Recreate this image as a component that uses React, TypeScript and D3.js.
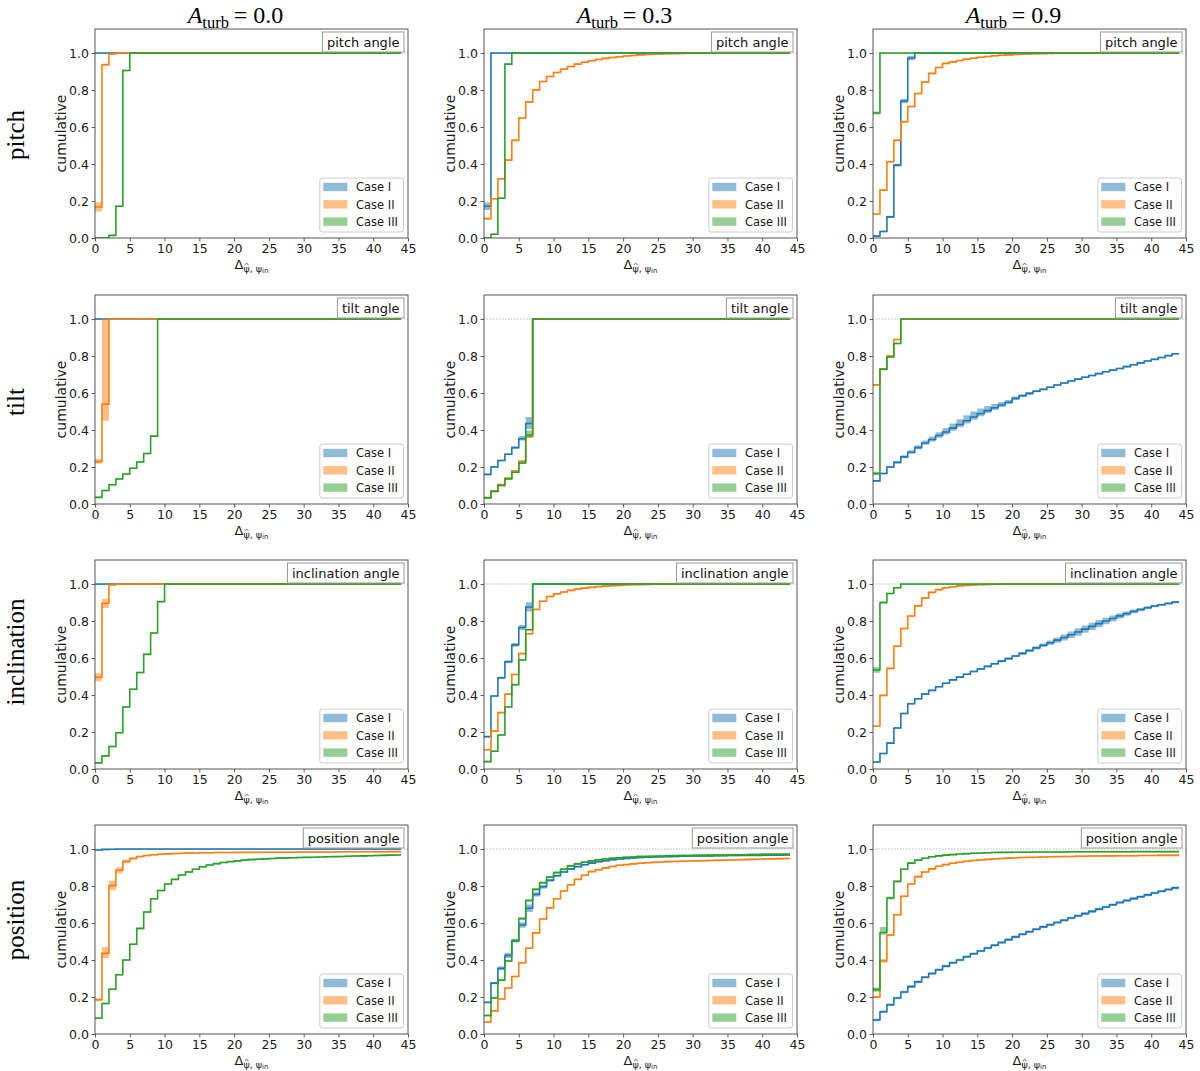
import React, { useEffect, useRef } from "react";
import * as d3 from "d3";

// ---------------- data ----------------
const turbValues = ["0.0", "0.3", "0.9"];
const rowNames = ["pitch", "tilt", "inclination", "position"];
const panelLabels = ["pitch angle", "tilt angle", "inclination angle", "position angle"];
const caseNames = ["Case I", "Case II", "Case III"];
const caseColors = ["#1f77b4", "#ff7f0e", "#2ca02c"];
const xTicks = [0, 5, 10, 15, 20, 25, 30, 35, 40, 45];
const yTicks = [0, 0.2, 0.4, 0.6, 0.8, 1.0];
const nBins = 44; // unit-width bins from 0 to 44; a CDF holds its last listed value

// pitch, A_turb = 0.0
const pitch00_I = [1];
const pitch00_II = [0.168, 0.937, 0.995, 1];
const pitch00_II_e = [0.025, 0.006];
const pitch00_III = [0, 0, 0.014, 0.172, 0.906, 1];
// pitch, A_turb = 0.3
const pitch03_I = [0.172, 1];
const pitch03_I_e = [0.02];
const pitch03_II = [0.105, 0.212, 0.32, 0.421, 0.528, 0.649, 0.736, 0.801, 0.846, 0.873, 0.895, 0.912, 0.927, 0.94, 0.95, 0.958, 0.965, 0.971, 0.976, 0.98, 0.984, 0.987, 0.99, 0.992, 0.994, 0.995, 0.996, 0.997, 0.998, 0.999, 1];
const pitch03_III = [0, 0.02, 0.215, 0.94, 1];
// pitch, A_turb = 0.9
const pitch09_I = [0.01, 0.035, 0.114, 0.394, 0.741, 0.973, 1];
const pitch09_I_e = [0.004, 0.004, 0.006, 0.008, 0.012, 0.012];
const pitch09_II = [0.13, 0.259, 0.412, 0.528, 0.629, 0.711, 0.781, 0.843, 0.89, 0.922, 0.944, 0.952, 0.96, 0.967, 0.972, 0.977, 0.981, 0.985, 0.988, 0.99, 0.992, 0.994, 0.995, 0.996, 0.997, 0.998, 0.999, 1];
const pitch09_III = [0.676, 1];
const pitch09_III_e = [0.008];

// tilt, A_turb = 0.0
const tilt00_I = [1];
const tilt00_II = [0.229, 0.54, 1];
const tilt00_II_up = [0.016, 0.46];
const tilt00_II_dn = [0.01, 0.09];
const tilt00_III = [0.036, 0.073, 0.104, 0.135, 0.162, 0.193, 0.227, 0.273, 0.367, 1];
// tilt, A_turb = 0.3
const tilt03_I = [0.16, 0.2, 0.235, 0.269, 0.305, 0.353, 0.435, 1];
const tilt03_I_up = [0.004, 0.004, 0.004, 0.004, 0.006, 0.015, 0.035];
const tilt03_I_dn = [0.004, 0.004, 0.004, 0.004, 0.006, 0.01, 0.03];
const tilt03_II = [0.035, 0.07, 0.105, 0.14, 0.18, 0.231, 0.364, 1];
const tilt03_III = [0.033, 0.068, 0.1, 0.135, 0.172, 0.222, 0.373, 1];
const tilt03_III_up = [0.004, 0.004, 0.004, 0.004, 0.004, 0.006, 0.025];
const tilt03_III_dn = [0.004, 0.004, 0.004, 0.004, 0.004, 0.006, 0.012];
// tilt, A_turb = 0.9
const tilt09_I = [0.125, 0.165, 0.2, 0.225, 0.255, 0.28, 0.305, 0.33, 0.349, 0.37, 0.389, 0.41, 0.43, 0.45, 0.47, 0.489, 0.505, 0.52, 0.535, 0.55, 0.571, 0.585, 0.598, 0.61, 0.62, 0.631, 0.643, 0.654, 0.665, 0.675, 0.685, 0.695, 0.705, 0.715, 0.724, 0.733, 0.743, 0.753, 0.763, 0.773, 0.782, 0.792, 0.802, 0.812];
const tilt09_I_up = [0.004, 0.004, 0.005, 0.006, 0.008, 0.01, 0.012, 0.014, 0.016, 0.018, 0.022, 0.025, 0.028, 0.03, 0.03, 0.028, 0.025, 0.02, 0.016, 0.012, 0.01, 0.008, 0.007, 0.006];
const tilt09_I_dn = [0.004, 0.004, 0.005, 0.006, 0.007, 0.008, 0.009, 0.01, 0.011, 0.012, 0.013, 0.014, 0.015, 0.015, 0.015, 0.014, 0.013, 0.012, 0.011, 0.01, 0.009, 0.008, 0.007, 0.006];
const tilt09_II = [0.644, 0.727, 0.8, 0.889, 1];
const tilt09_III = [0.165, 0.73, 0.795, 0.868, 1];
const tilt09_III_e = [0.01];

// inclination, A_turb = 0.0
const incl00_I = [1];
const incl00_II = [0.496, 0.896, 0.995, 1];
const incl00_II_e = [0.022, 0.025, 0.004];
const incl00_III = [0.033, 0.071, 0.122, 0.196, 0.335, 0.431, 0.522, 0.62, 0.735, 0.905, 1];
// inclination, A_turb = 0.3
const incl03_I = [0.175, 0.395, 0.493, 0.58, 0.671, 0.765, 0.876, 1];
const incl03_I_e = [0.004, 0.004, 0.006, 0.008, 0.01, 0.014, 0.025];
const incl03_II = [0.104, 0.205, 0.305, 0.405, 0.511, 0.624, 0.731, 0.862, 0.907, 0.933, 0.947, 0.957, 0.966, 0.973, 0.978, 0.982, 0.986, 0.989, 0.991, 0.993, 0.995, 0.996, 0.997, 0.998, 0.999, 1];
const incl03_III = [0.04, 0.096, 0.184, 0.335, 0.456, 0.589, 0.753, 1];
// inclination, A_turb = 0.9
const incl09_I = [0.038, 0.084, 0.14, 0.222, 0.3, 0.353, 0.38, 0.405, 0.425, 0.445, 0.464, 0.482, 0.497, 0.512, 0.527, 0.541, 0.555, 0.569, 0.583, 0.597, 0.611, 0.625, 0.64, 0.655, 0.669, 0.683, 0.697, 0.711, 0.726, 0.741, 0.756, 0.771, 0.786, 0.8, 0.814, 0.828, 0.84, 0.852, 0.862, 0.872, 0.881, 0.888, 0.895, 0.902];
const incl09_I_e = [0.004, 0.004, 0.004, 0.004, 0.004, 0.004, 0.004, 0.004, 0.004, 0.004, 0.004, 0.004, 0.004, 0.004, 0.004, 0.005, 0.005, 0.005, 0.006, 0.006, 0.006, 0.007, 0.008, 0.009, 0.01, 0.012, 0.014, 0.016, 0.018, 0.02, 0.02, 0.02, 0.02, 0.018, 0.016, 0.014, 0.012, 0.01, 0.009, 0.008, 0.007, 0.006, 0.006, 0.006];
const incl09_II = [0.231, 0.398, 0.544, 0.664, 0.76, 0.827, 0.882, 0.924, 0.955, 0.97, 0.98, 0.985, 0.99, 0.993, 0.995, 0.997, 0.998, 0.999, 1];
const incl09_III = [0.535, 0.9, 0.949, 0.98, 1];
const incl09_III_e = [0.015, 0.006];

// position, A_turb = 0.0
const pos00_I = [0.995, 0.998, 0.999, 1];
const pos00_II = [0.185, 0.436, 0.802, 0.885, 0.933, 0.949, 0.96, 0.965, 0.969, 0.972, 0.974, 0.976, 0.977, 0.978, 0.979, 0.98, 0.98, 0.981, 0.981, 0.981, 0.982, 0.982, 0.982, 0.982, 0.983, 0.983, 0.983, 0.983, 0.983, 0.984, 0.984, 0.984, 0.984, 0.984, 0.984, 0.985, 0.985, 0.985, 0.985, 0.985, 0.985, 0.985, 0.986, 0.986];
const pos00_II_up = [0.008, 0.035, 0.025, 0.016, 0.01, 0.006];
const pos00_II_dn = [0.008, 0.025, 0.025, 0.016, 0.01, 0.006];
const pos00_III = [0.085, 0.165, 0.242, 0.32, 0.4, 0.485, 0.571, 0.66, 0.731, 0.776, 0.811, 0.836, 0.86, 0.876, 0.891, 0.904, 0.914, 0.921, 0.927, 0.932, 0.936, 0.94, 0.943, 0.945, 0.947, 0.949, 0.951, 0.952, 0.953, 0.954, 0.955, 0.956, 0.957, 0.958, 0.959, 0.96, 0.961, 0.962, 0.963, 0.964, 0.965, 0.966, 0.967, 0.968];
// position, A_turb = 0.3
const pos03_I = [0.171, 0.275, 0.355, 0.425, 0.505, 0.589, 0.68, 0.755, 0.796, 0.831, 0.856, 0.876, 0.893, 0.905, 0.915, 0.924, 0.931, 0.937, 0.942, 0.946, 0.949, 0.952, 0.954, 0.956, 0.957, 0.958, 0.959, 0.96, 0.961, 0.962, 0.962, 0.963, 0.963, 0.964, 0.964, 0.965, 0.965, 0.966, 0.966, 0.966, 0.967, 0.967, 0.967, 0.968];
const pos03_I_e = [0.004, 0.006, 0.01, 0.014, 0.01, 0.015, 0.02, 0.012, 0.01, 0.008, 0.006, 0.005];
const pos03_II = [0.065, 0.125, 0.189, 0.249, 0.311, 0.385, 0.464, 0.547, 0.622, 0.682, 0.731, 0.773, 0.807, 0.836, 0.858, 0.878, 0.888, 0.898, 0.906, 0.912, 0.916, 0.92, 0.923, 0.926, 0.928, 0.93, 0.932, 0.933, 0.934, 0.935, 0.936, 0.937, 0.938, 0.939, 0.94, 0.941, 0.942, 0.943, 0.944, 0.945, 0.946, 0.947, 0.948, 0.949];
const pos03_III = [0.1, 0.195, 0.291, 0.395, 0.504, 0.624, 0.722, 0.782, 0.818, 0.849, 0.873, 0.891, 0.909, 0.92, 0.929, 0.936, 0.942, 0.946, 0.95, 0.953, 0.955, 0.957, 0.959, 0.96, 0.961, 0.962, 0.963, 0.964, 0.965, 0.965, 0.966, 0.966, 0.967, 0.967, 0.968, 0.968, 0.969, 0.969, 0.97, 0.97, 0.971, 0.971, 0.972, 0.972];
const pos03_III_e = 0.006;
// position, A_turb = 0.9
const pos09_I = [0.076, 0.12, 0.158, 0.195, 0.227, 0.256, 0.282, 0.307, 0.327, 0.347, 0.367, 0.385, 0.4, 0.418, 0.434, 0.449, 0.465, 0.48, 0.495, 0.51, 0.525, 0.539, 0.553, 0.566, 0.579, 0.591, 0.603, 0.615, 0.627, 0.639, 0.651, 0.663, 0.675, 0.687, 0.699, 0.711, 0.722, 0.732, 0.742, 0.752, 0.762, 0.772, 0.781, 0.79];
const pos09_I_e = 0.007;
const pos09_II = [0.2, 0.395, 0.535, 0.645, 0.745, 0.811, 0.851, 0.876, 0.893, 0.907, 0.916, 0.923, 0.929, 0.934, 0.938, 0.941, 0.944, 0.947, 0.949, 0.951, 0.953, 0.954, 0.955, 0.956, 0.957, 0.958, 0.959, 0.96, 0.96, 0.961, 0.961, 0.962, 0.962, 0.963, 0.963, 0.964, 0.964, 0.964, 0.965, 0.965, 0.965, 0.966, 0.966, 0.966];
const pos09_II_e = [0.006, 0.01, 0.006];
const pos09_III = [0.24, 0.549, 0.735, 0.825, 0.891, 0.924, 0.94, 0.95, 0.958, 0.963, 0.967, 0.97, 0.973, 0.975, 0.977, 0.979, 0.98, 0.981, 0.982, 0.982, 0.983, 0.983, 0.983, 0.984, 0.984, 0.984, 0.984, 0.984, 0.985, 0.985, 0.985, 0.985, 0.985, 0.985, 0.985, 0.985, 0.985, 0.986, 0.986, 0.986, 0.986, 0.986, 0.986, 0.986];
const pos09_III_up = [0.012, 0.03, 0.008];
const pos09_III_dn = [0.012, 0.012, 0.008];

type Band = number | number[] | undefined;
type Series = { v: number[]; up?: Band; dn?: Band };
const S = (v: number[], up?: Band, dn?: Band): Series => ({ v, up, dn });

const grid: Series[][][] = [
  [
    [S(pitch00_I), S(pitch00_II, pitch00_II_e), S(pitch00_III)],
    [S(pitch03_I, pitch03_I_e), S(pitch03_II), S(pitch03_III)],
    [S(pitch09_I, pitch09_I_e), S(pitch09_II), S(pitch09_III, pitch09_III_e)],
  ],
  [
    [S(tilt00_I), S(tilt00_II, tilt00_II_up, tilt00_II_dn), S(tilt00_III)],
    [S(tilt03_I, tilt03_I_up, tilt03_I_dn), S(tilt03_II), S(tilt03_III, tilt03_III_up, tilt03_III_dn)],
    [S(tilt09_I, tilt09_I_up, tilt09_I_dn), S(tilt09_II), S(tilt09_III, tilt09_III_e)],
  ],
  [
    [S(incl00_I), S(incl00_II, incl00_II_e), S(incl00_III)],
    [S(incl03_I, incl03_I_e), S(incl03_II), S(incl03_III)],
    [S(incl09_I, incl09_I_e), S(incl09_II), S(incl09_III, incl09_III_e)],
  ],
  [
    [S(pos00_I), S(pos00_II, pos00_II_up, pos00_II_dn), S(pos00_III)],
    [S(pos03_I, pos03_I_e), S(pos03_II), S(pos03_III, pos03_III_e)],
    [S(pos09_I, pos09_I_e), S(pos09_II, pos09_II_e), S(pos09_III, pos09_III_up, pos09_III_dn)],
  ],
];

// ---------------- layout ----------------
const W = 1200;
const H = 1071;
const colLeft = [95, 484, 873];
const colWidth = 313;
const rowTop = [29, 295, 560, 825];
const rowHeight = 209;
const rowLabelY = [135, 402, 652, 920];
const yMax = 1.13;
const DEF_E = 0.004;

const SANS = "'DejaVu Sans', sans-serif";
const SERIF = "'Liberation Serif', 'Times New Roman', serif";

function valAt(v: number[], i: number) {
  const k = Math.min(i, nBins - 1);
  return k < v.length ? v[k] : v[v.length - 1];
}
function bandAt(e: Band, i: number) {
  const k = Math.min(i, nBins - 1);
  if (e === undefined) return DEF_E;
  if (typeof e === "number") return e;
  return k < e.length ? e[k] : DEF_E;
}

export default function App() {
  const ref = useRef<SVGSVGElement | null>(null);

  useEffect(() => {
    const svg = d3.select(ref.current);
    svg.selectAll("*").remove();
    svg.append("rect").attr("width", W).attr("height", H).attr("fill", "#fff");
    const defs = svg.append("defs");

    // column titles
    turbValues.forEach((t, c) => {
      const tx = svg
        .append("text")
        .attr("x", colLeft[c] + colWidth / 2 - 16)
        .attr("y", 23)
        .attr("text-anchor", "middle")
        .attr("font-family", SERIF)
        .attr("font-size", 24)
        .attr("fill", "#000");
      tx.append("tspan").attr("font-style", "italic").text("A");
      tx.append("tspan").attr("font-size", 16.5).attr("dy", 4.5).text("turb");
      tx.append("tspan").attr("dy", -4.5).text("\u2009= " + t);
    });

    // row labels
    rowNames.forEach((name, r) => {
      svg
        .append("text")
        .attr("transform", `translate(24,${rowLabelY[r]}) rotate(-90)`)
        .attr("text-anchor", "middle")
        .attr("font-family", SERIF)
        .attr("font-size", 25)
        .attr("fill", "#000")
        .text(name);
    });

    const idx = d3.range(nBins + 1);

    for (let r = 0; r < 4; r++) {
      for (let c = 0; c < 3; c++) {
        const g = svg.append("g").attr("transform", `translate(${colLeft[c]},${rowTop[r]})`);
        const x = d3.scaleLinear().domain([0, 45]).range([0, colWidth]);
        const y = d3.scaleLinear().domain([0, yMax]).range([rowHeight, 0]);
        const cid = `clip-${r}-${c}`;
        defs.append("clipPath").attr("id", cid).append("rect").attr("width", colWidth).attr("height", rowHeight);
        const plot = g.append("g").attr("clip-path", `url(#${cid})`);

        plot
          .append("line")
          .attr("x1", 0)
          .attr("x2", colWidth)
          .attr("y1", y(1))
          .attr("y2", y(1))
          .attr("stroke", "#aaaaaa")
          .attr("stroke-width", 0.8)
          .attr("stroke-dasharray", "1.5,1.5");

        grid[r][c].forEach((s, k) => {
          const dn = s.dn === undefined ? s.up : s.dn;
          const area = d3
            .area<number>()
            .x((i) => x(i))
            .y0((i) => y(Math.max(0, valAt(s.v, i) - bandAt(dn, i))))
            .y1((i) => y(Math.min(1, valAt(s.v, i) + bandAt(s.up, i))))
            .curve(d3.curveStepAfter);
          plot
            .append("path")
            .attr("d", area(idx) || "")
            .attr("fill", caseColors[k])
            .attr("fill-opacity", 0.5)
            .attr("stroke", "none");
          const line = d3
            .line<number>()
            .x((i) => x(i))
            .y((i) => y(valAt(s.v, i)))
            .curve(d3.curveStepAfter);
          plot
            .append("path")
            .attr("d", line(idx) || "")
            .attr("fill", "none")
            .attr("stroke", caseColors[k])
            .attr("stroke-width", 1.6);
        });

        // axes
        const xa = g
          .append("g")
          .attr("transform", `translate(0,${rowHeight})`)
          .call(d3.axisBottom(x).tickValues(xTicks).tickFormat(d3.format("d")).tickSize(3.5).tickPadding(2.5));
        const ya = g
          .append("g")
          .call(d3.axisLeft(y).tickValues(yTicks).tickFormat(d3.format(".1f")).tickSize(3.5).tickPadding(2.5));
        [xa, ya].forEach((a) => {
          a.select(".domain").remove();
          a.selectAll("line").attr("stroke", "#333").attr("stroke-width", 0.8);
          a.selectAll("text").attr("font-family", SANS).attr("font-size", 12.5).attr("fill", "#1a1a1a");
        });

        g.append("rect")
          .attr("width", colWidth)
          .attr("height", rowHeight)
          .attr("fill", "none")
          .attr("stroke", "#444")
          .attr("stroke-width", 0.9);

        // y label
        g.append("text")
          .attr("transform", `translate(-29,${rowHeight / 2}) rotate(-90)`)
          .attr("text-anchor", "middle")
          .attr("font-family", SANS)
          .attr("font-size", 14)
          .attr("fill", "#1a1a1a")
          .text("cumulative");

        // x label: Δ with subscript ψ̂, ψ_in (hat drawn as a small stroke)
        const xlg = g.append("g");
        const xlY = rowHeight + 30.5;
        const xl = xlg
          .append("text")
          .attr("x", 0)
          .attr("y", xlY)
          .attr("font-family", SANS)
          .attr("font-size", 13)
          .attr("fill", "#1a1a1a");
        xl.append("tspan").text("\u0394");
        xl.append("tspan").attr("font-size", 9.5).attr("dy", 3).text("\u03C8, \u03C8");
        xl.append("tspan").attr("font-size", 7).attr("dy", 1.5).text("in");
        const xn = xl.node() as SVGTextElement;
        const totalW = xn.getComputedTextLength();
        const x0 = colWidth / 2 - totalW / 2;
        xl.attr("x", x0);
        let hatX = x0 + totalW * 0.4;
        try {
          const s0 = xn.getStartPositionOfChar(1);
          const e0 = xn.getEndPositionOfChar(1);
          hatX = (s0.x + e0.x) / 2;
        } catch (err) {
          /* fallback */
        }
        const hy = xlY + 3 - 8.2;
        xlg
          .append("path")
          .attr("d", `M${hatX - 2},${hy + 1.6} L${hatX},${hy} L${hatX + 2},${hy + 1.6}`)
          .attr("fill", "none")
          .attr("stroke", "#1a1a1a")
          .attr("stroke-width", 0.7);

        // annotation box
        const ann = g.append("g");
        const annText = ann
          .append("text")
          .attr("font-family", SANS)
          .attr("font-size", 13)
          .attr("fill", "#111")
          .text(panelLabels[r]);
        const tw = (annText.node() as SVGTextElement).getComputedTextLength();
        const aw = tw + 9;
        const ax = colWidth - 4 - aw;
        const ay = 3;
        ann
          .insert("rect", "text")
          .attr("x", ax)
          .attr("y", ay)
          .attr("width", aw)
          .attr("height", 20)
          .attr("fill", "#fff")
          .attr("stroke", "#999")
          .attr("stroke-width", 1);
        annText.attr("x", ax + 4.5).attr("y", ay + 14.5);

        // legend
        const leg = g.append("g");
        const lfs = 11.5;
        const texts = caseNames.map((nm) =>
          leg.append("text").attr("font-family", SANS).attr("font-size", lfs).attr("fill", "#1a1a1a").text(nm)
        );
        const maxW = d3.max(texts.map((t) => (t.node() as SVGTextElement).getComputedTextLength())) || 40;
        const patchW = 24;
        const bw = 3.5 + patchW + 8.7 + maxW + 5.5;
        const bh = 54;
        const bx = colWidth - 4.5 - bw;
        const by = rowHeight - 6 - bh;
        leg
          .insert("rect", "text")
          .attr("x", bx)
          .attr("y", by)
          .attr("width", bw)
          .attr("height", bh)
          .attr("rx", 2.5)
          .attr("fill", "#fff")
          .attr("fill-opacity", 0.8)
          .attr("stroke", "#cccccc")
          .attr("stroke-width", 1);
        caseNames.forEach((nm, k) => {
          const cy = by + 9 + k * 17.3;
          leg
            .insert("rect", "text")
            .attr("x", bx + 3.5)
            .attr("y", cy - 4.2)
            .attr("width", patchW)
            .attr("height", 8.4)
            .attr("fill", caseColors[k])
            .attr("fill-opacity", 0.5);
          texts[k].attr("x", bx + 3.5 + patchW + 8.7).attr("y", cy + 4.2);
        });
      }
    }
  }, []);

  return (
    <svg
      ref={ref}
      width={W}
      height={H}
      viewBox={`0 0 ${W} ${H}`}
      style={{ position: "absolute", left: 0, top: 0, display: "block" }}
    />
  );
}
